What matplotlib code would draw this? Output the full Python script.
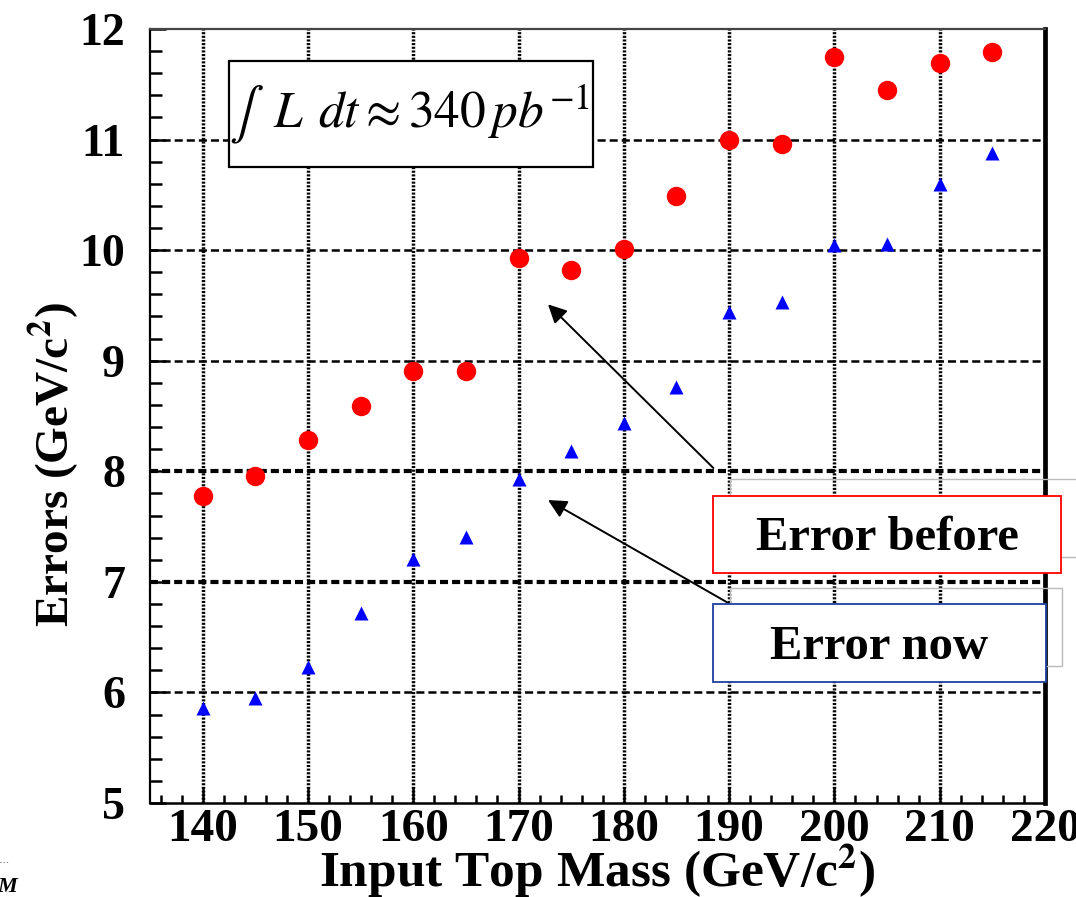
import matplotlib
matplotlib.use("Agg")
import matplotlib.pyplot as plt
from matplotlib.patches import Rectangle
from matplotlib.ticker import MultipleLocator

plt.rcParams['font.family'] = ['Liberation Serif', 'DejaVu Serif']
plt.rcParams['mathtext.fontset'] = 'stix'

# input top mass (GeV/c^2)
mass = [140, 145, 150, 155, 160, 165, 170, 175, 180, 185, 190, 195, 200, 205, 210, 215]
# errors (GeV/c^2)
err_before = [7.78, 7.96, 8.28, 8.59, 8.91, 8.91, 9.93, 9.82, 10.01, 10.49,
              11.00, 10.96, 11.75, 11.45, 11.69, 11.79]
err_now = [5.86, 5.95, 6.23, 6.72, 7.21, 7.41, 7.93, 8.18, 8.44, 8.76,
           9.44, 9.53, 10.05, 10.06, 10.60, 10.88]

x_grid = [140, 150, 160, 170, 180, 190, 200, 210]
y_grid = [6, 7, 8, 9, 10, 11]
thick_rows = [7, 8]

W, H = 1076, 897


def fx(x):
    return x / W


def fy(y):
    return 1 - y / H


fig = plt.figure(figsize=(W / 100, H / 100), dpi=100)
ax = fig.add_axes([fx(150), fy(803), 895 / W, 774 / H])

ax.set_xlim(135, 220)
ax.set_ylim(5, 12)

# grid: dotted verticals, dashed horizontals
for xv in x_grid:
    ax.axvline(xv, color='black', lw=2.5, ls=(0, (0.6, 0.45)), zorder=1)
for yv in y_grid:
    lw = 3.0 if yv in thick_rows else 1.8
    ax.axhline(yv, color='black', lw=lw, ls=(0, (5.8 / lw, 2.9 / lw)), zorder=1)

ax.plot(mass, err_before, 'o', color='red', ms=14, mec='none', zorder=3)
ax.plot(mass, err_now, '^', color='blue', ms=10, mec='none', zorder=3)

ax.xaxis.set_major_locator(MultipleLocator(10))
ax.xaxis.set_minor_locator(MultipleLocator(2))
ax.yaxis.set_major_locator(MultipleLocator(1))
ax.yaxis.set_minor_locator(MultipleLocator(0.2))
ax.tick_params(which='both', direction='in', top=False, right=False, width=1.8)
ax.tick_params(axis='x', which='major', length=11.5, pad=4, labelsize=34)
ax.tick_params(axis='x', which='minor', length=5.8)
ax.tick_params(axis='y', which='major', length=11.5, pad=18, labelsize=33)
ax.tick_params(axis='y', which='minor', length=8.6)
for lab in ax.get_xticklabels() + ax.get_yticklabels():
    lab.set_fontweight('bold')

ax.spines['left'].set_linewidth(1.6)
ax.spines['bottom'].set_linewidth(1.8)
ax.spines['top'].set_linewidth(1.6)
ax.spines['top'].set_color('#444444')
ax.spines['right'].set_linewidth(3.4)

ax.set_xlabel(r'Input Top Mass (GeV/c$^{\mathbf{2}}$)', fontsize=37, fontweight='bold')
ax.xaxis.set_label_coords(0.499, -0.05)
ax.set_ylabel(r'Errors (GeV/c$^{\mathbf{2}}$)', fontsize=34, fontweight='bold')
ax.yaxis.set_label_coords(-0.076, 0.437)

# luminosity box
fig.patches.append(Rectangle((fx(229), fy(167)), (593 - 229) / W, (167 - 61) / H,
                             transform=fig.transFigure, facecolor='white',
                             edgecolor='black', lw=1.6, zorder=5))
fig.text(fx(409), fy(114), r'$\int\;\; L\;\,dt \approx 340\,pb^{-1}$', fontsize=37,
         ha='center', va='center', zorder=6)

# faint boxes behind the labels
fig.patches.append(Rectangle((fx(730), fy(557)), (1100 - 730) / W, (557 - 479) / H,
                             transform=fig.transFigure, facecolor='none',
                             edgecolor='#bbbbbb', lw=1.0, zorder=4))
fig.patches.append(Rectangle((fx(730), fy(666)), (1062 - 730) / W, (666 - 588) / H,
                             transform=fig.transFigure, facecolor='none',
                             edgecolor='#bbbbbb', lw=1.0, zorder=4))

# label boxes
fig.patches.append(Rectangle((fx(713), fy(573)), (1061 - 713) / W, (573 - 496) / H,
                             transform=fig.transFigure, facecolor='white',
                             edgecolor='#ff0000', lw=1.3, zorder=5))
fig.text(fx(887), fy(538), 'Error before', fontsize=35, fontweight='bold',
         ha='center', va='center', zorder=6)
fig.patches.append(Rectangle((fx(713), fy(682)), (1046 - 713) / W, (682 - 604) / H,
                             transform=fig.transFigure, facecolor='white',
                             edgecolor='#1f3fa0', lw=1.3, zorder=5))
fig.text(fx(879), fy(647), 'Error now', fontsize=35, fontweight='bold',
         ha='center', va='center', zorder=6)

# arrows
ax.annotate('', xy=(172.8, 9.51), xytext=(188.5, 8.03),
            arrowprops=dict(arrowstyle='-|>', mutation_scale=28, lw=1.4,
                            color='black', shrinkA=0, shrinkB=0), zorder=4)
ax.annotate('', xy=(172.8, 7.74), xytext=(189.9, 6.81),
            arrowprops=dict(arrowstyle='-|>', mutation_scale=28, lw=1.4,
                            color='black', shrinkA=0, shrinkB=0), zorder=4)

# clipped leftovers at the bottom left edge
fig.text(fx(0), fy(862), '- - -', fontsize=4, va='center')
fig.text(fx(-3), fy(897), 'M', fontsize=16, style='italic', fontweight='bold',
         va='bottom')

fig.savefig('out.png', dpi=100)
